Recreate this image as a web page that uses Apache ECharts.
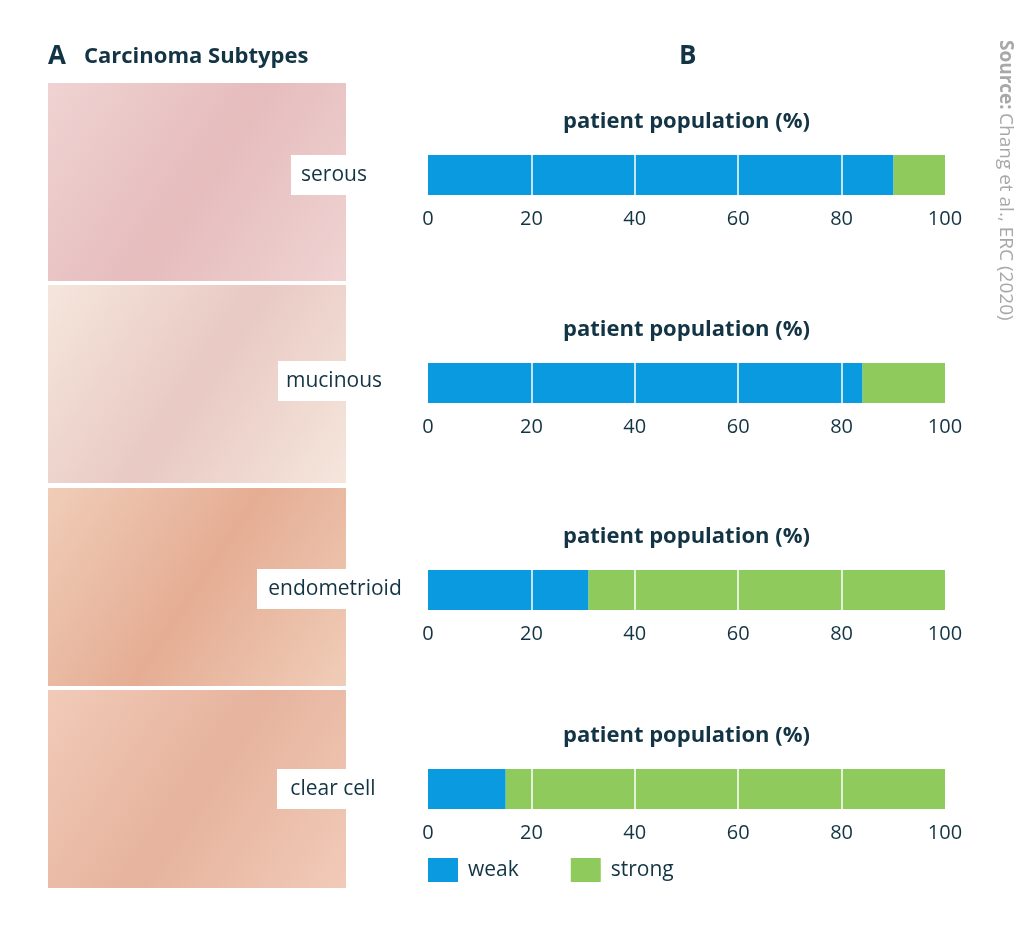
<!doctype html>
<html lang="en">
<head>
<meta charset="UTF-8">
<title>Carcinoma Subtypes</title>
<script src="https://cdn.jsdelivr.net/npm/echarts@6/dist/echarts.min.js"></script>
<style>html,body{margin:0;padding:0;background:#fff}#main{width:1024px;height:945px}</style>
</head>
<body>
<div id="main"></div>
<script>
var subtypes = ['serous', 'mucinous', 'endometrioid', 'clear cell'];
var weak = [90, 84, 31, 15];
var strong = [10, 16, 69, 85];
var ticks = [0, 20, 40, 60, 80, 100];

var chart = echarts.init(document.getElementById('main'));
var navy = '#123444';
var tops = [155, 363, 570, 769];
var imgTops = [83, 285, 488, 690];
var imgColors = [['#efd3d2', '#e6bcbd'], ['#f5e6dc', '#e8c9c3'], ['#f0cdb8', '#e5ad94'], ['#f1cbb8', '#e6b39d']];

var grid = [], xAxis = [], yAxis = [], series = [], graphic = [];
tops.forEach(function (t, i) {
	grid.push({ left: 428, width: 517, top: t, height: 40 });
	xAxis.push({
		gridIndex: i, type: 'value', min: 0, max: 100, interval: 20,
		axisLine: { show: false }, axisTick: { show: false }, splitLine: { show: false },
		axisLabel: { color: navy, fontSize: 20, fontFamily: 'Open Sans', margin: 14 }
	});
	yAxis.push({ gridIndex: i, type: 'category', data: [subtypes[i]], show: false });
	series.push({
		name: 'weak', type: 'bar', stack: 's' + i, xAxisIndex: i, yAxisIndex: i,
		data: [weak[i]], barWidth: 40, itemStyle: { color: '#0a9ae0' },
		markLine: {
			silent: true, symbol: 'none', label: { show: false },
			lineStyle: { color: '#fff', type: 'solid', width: 1.5 },
			data: ticks.slice(1, 5).map(function (v) { return { xAxis: v }; })
		},
		z: 2
	});
	series.push({
		name: 'strong', type: 'bar', stack: 's' + i, xAxisIndex: i, yAxisIndex: i,
		data: [strong[i]], barWidth: 40, itemStyle: { color: '#8fcb5c' }, z: 1
	});
	graphic.push({
		type: 'text', left: 563, top: t - 44,
		style: { text: 'patient population (%)', font: 'bold 22px "Open Sans"', fill: navy }
	});
	graphic.push({
		type: 'rect', shape: { x: 48, y: imgTops[i], width: 298, height: 198 },
		style: { fill: new echarts.graphic.LinearGradient(0, 0, 1, 1, [
			{ offset: 0, color: imgColors[i][0] }, { offset: 0.5, color: imgColors[i][1] }, { offset: 1, color: imgColors[i][0] }]) }
	});
});

var labelBoxes = [[291, 155, 86], [278, 361, 112], [257, 569, 156], [277, 769, 112]];
labelBoxes.forEach(function (b, i) {
	graphic.push({ type: 'rect', shape: { x: b[0], y: b[1], width: b[2], height: 40 }, style: { fill: '#fff' } });
	graphic.push({
		type: 'text', x: b[0] + b[2] / 2, y: b[1] + 20,
		style: { text: subtypes[i], font: '21px "Open Sans"', fill: navy, align: 'center', verticalAlign: 'middle' }
	});
});

graphic.push(
	{ type: 'text', left: 48, top: 44, style: { text: 'A', font: 'bold 26px "Open Sans"', fill: navy } },
	{ type: 'text', left: 84, top: 46, style: { text: 'Carcinoma Subtypes', font: 'bold 22px "Open Sans"', fill: navy } },
	{ type: 'text', left: 679, top: 44, style: { text: 'B', font: 'bold 26px "Open Sans"', fill: navy } },
	{
		type: 'text', x: 996, y: 40, rotation: -Math.PI / 2,
		style: { rich: { b: { font: 'bold 19px "Open Sans"', fill: '#a8a8a8' }, n: { font: '19px "Open Sans"', fill: '#a8a8a8' } },
			text: '{b|Source:} {n|Chang et al., ERC (2020)}', verticalAlign: 'bottom' }
	}
);

chart.setOption({
	animation: false,
	grid: grid,
	xAxis: xAxis,
	yAxis: yAxis,
	series: series,
	graphic: graphic,
	legend: {
		data: ['weak', 'strong'], left: 423, top: 853, itemWidth: 30, itemHeight: 24, itemGap: 52,
		icon: 'rect', textStyle: { color: navy, fontSize: 21, fontFamily: 'Open Sans', padding: [0, 0, 0, 5] }
	}
});
</script>
</body>
</html>
